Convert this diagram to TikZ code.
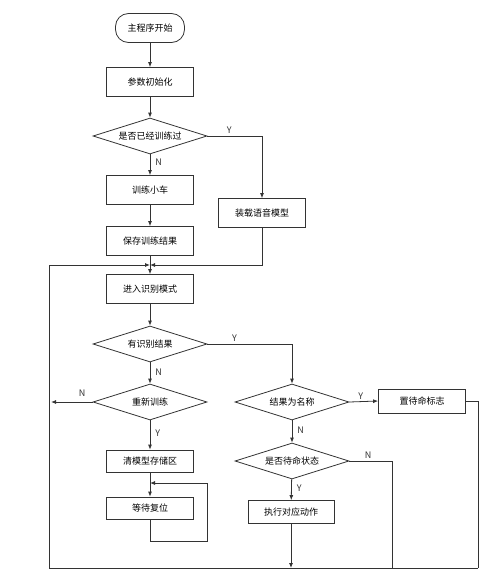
\documentclass[tikz,border=0pt]{standalone}
\usepackage{fontspec}
\newfontfamily\cjk{Noto Sans CJK SC}
\usetikzlibrary{arrows.meta,positioning,shapes.geometric}

\begin{document}
\begin{tikzpicture}[
  x=1pt,y=-1pt,
  font=\cjk\fontsize{9}{10}\selectfont,
  procbox/.style={draw=black!80,line width=0.8pt,minimum width=87pt,minimum height=29pt,inner sep=1pt},
  decide/.style={draw=black!80,line width=0.8pt,diamond,aspect=3.2,minimum width=114pt,minimum height=36pt,inner sep=0pt},
  startbox/.style={draw=black!80,line width=0.8pt,rounded corners=13pt,minimum width=69pt,minimum height=29pt},
  arrow/.style={-{Latex[length=5pt,width=4pt]},line width=0.8pt,black!80},
  link/.style={line width=0.8pt,black!80},
  yn/.style={text=black!80,inner sep=2pt}
]
\useasboundingbox (0,0) rectangle (500,587);

% left column
\node[startbox] (start) at (150,28) {主程序开始};
\node[procbox] (init) at (150,82) {参数初始化};
\node[decide] (trained) at (150,136) {是否已经训练过};
\node[procbox] (train) at (150,190) {训练小车};
\node[procbox] (load) at (262,213) {装载语音模型};
\node[procbox] (save) at (150,241) {保存训练结果};
\node[procbox] (recog) at (150,289) {进入识别模式};
\node[decide] (hasres) at (150,344) {有识别结果};
\node[decide] (retrain) at (150,402) {重新训练};
\node[procbox,minimum height=22pt] (clear) at (150,461) {清模型存储区};
\node[procbox,minimum height=22pt] (reset) at (150,508) {等待复位};

% right column
\node[decide] (isname) at (292,402) {结果为名称};
\node[procbox,minimum height=24pt] (flag) at (422,401) {置待命标志};
\node[decide] (standby) at (292,461) {是否待命状态};
\node[procbox,minimum height=23pt,minimum width=86pt] (act) at (291,512) {执行对应动作};

\coordinate (merge) at (150,265);
\coordinate (loopin) at (150,483);
\coordinate (bl) at (49,568);
\coordinate (br) at (478,568);
\coordinate (nstop) at (392,568);

\draw[arrow] (start) -- (init);
\draw[arrow] (init) -- (trained);
\draw[arrow] (trained) -- node[yn,pos=0.4,right=3pt]{N} (train);
\draw[arrow] (trained.east) -| node[yn,pos=0.2,above]{Y} (load.north);
\draw[arrow] (train) -- (save);
\draw[arrow] (load.south) |- (merge);
\draw[arrow] (save) -- (recog);
\draw[arrow] (bl) |- (merge);
\draw[arrow] (recog) -- (hasres);
\draw[arrow] (hasres) -- node[yn,pos=0.45,right=3pt]{N} (retrain);
\draw[arrow] (hasres.east) -| node[yn,pos=0.16,above]{Y} (isname.north);
\draw[arrow] (retrain.west) -- node[yn,pos=0.25,above=3pt]{N} ([xshift=2pt]bl |- retrain.west);
\draw[arrow] (retrain) -- node[yn,pos=0.45,right=3pt]{Y} (clear);
\draw[arrow] (clear) -- (reset);
\draw[arrow] (reset.south) |- (207,541) |- (loopin);

\draw[arrow] (isname.east) -- node[yn,pos=0.4,above]{Y} (flag.west);
\draw[arrow] (isname) -- node[yn,pos=0.45,right=3pt]{N} (standby);
\draw[arrow] (standby) -- node[yn,pos=0.45,right=3pt]{Y} (act);
\draw[link] (standby.east) -| node[yn,pos=0.22,above]{N} (nstop);
\draw[link] (flag.east) -| (br);
\draw[link] (br) -- (bl);
\draw[arrow] (act) -- (act |- bl);
\end{tikzpicture}
\end{document}
